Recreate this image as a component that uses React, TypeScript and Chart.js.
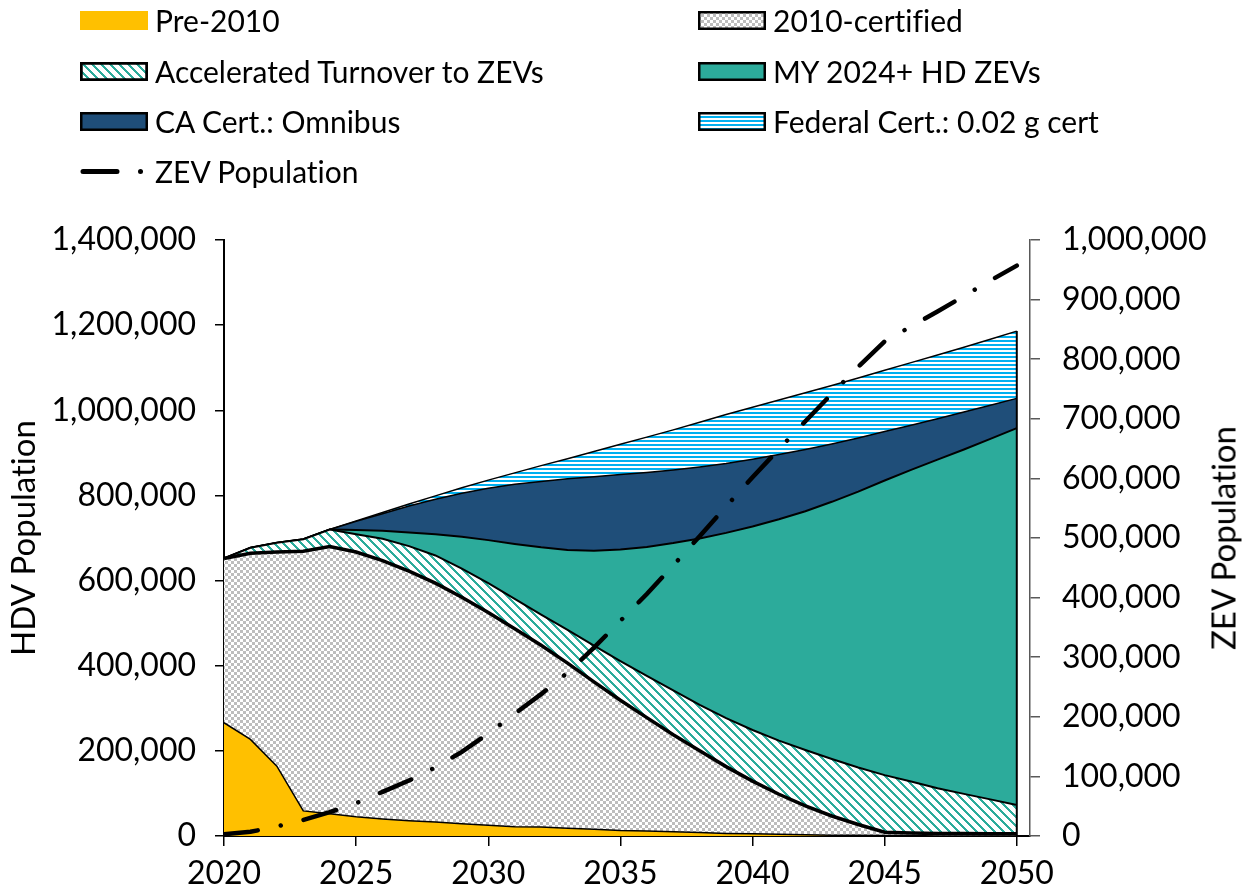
import React, { useEffect, useRef } from 'react';
import { Chart, registerables } from 'chart.js';

Chart.register(...registerables);

// ---------------- DATA ----------------
const years = [2020, 2021, 2022, 2023, 2024, 2025, 2026, 2027, 2028, 2029, 2030, 2031, 2032, 2033, 2034, 2035, 2036, 2037, 2038, 2039, 2040, 2041, 2042, 2043, 2044, 2045, 2046, 2047, 2048, 2049, 2050];

const pre2010 = [266000, 227000, 164000, 59000, 52000, 45000, 40000, 36000, 33000, 29000, 25000, 22000, 21000, 18000, 16000, 13000, 12000, 10000, 8000, 6000, 5000, 4000, 3000, 2000, 2000, 1000, 1000, 0, 0, 0, 0];
const certified2010 = [386000, 437000, 503000, 610000, 628000, 622000, 607000, 586000, 561000, 532000, 500000, 465000, 427000, 388000, 346000, 306000, 266000, 228000, 192000, 157000, 124000, 94000, 68000, 45000, 25000, 8000, 6000, 6000, 6000, 5000, 5000];
const acceleratedTurnover = [0, 13000, 22000, 28000, 40000, 42000, 51000, 59000, 65000, 67000, 69000, 70000, 72000, 78000, 85000, 92000, 98000, 104000, 108000, 114000, 120000, 126000, 131000, 134000, 134000, 134000, 121000, 106000, 93000, 81000, 68000];
const my2024Zevs = [0, 0, 0, 0, 0, 10000, 19000, 32000, 50000, 75000, 101000, 129000, 158000, 188000, 223000, 262000, 303000, 346000, 391000, 435000, 478000, 520000, 561000, 604000, 648000, 692000, 732000, 772000, 809000, 847000, 885000];
const caOmnibus = [0, 0, 0, 0, 0, 20000, 40000, 62000, 82000, 102000, 122000, 140000, 155000, 167000, 174000, 176000, 175000, 172000, 168000, 163000, 158000, 152000, 145000, 136000, 126000, 115000, 105000, 96000, 88000, 79000, 70000];
const federalCert = [0, 0, 0, 0, 0, 1000, 3000, 5000, 8000, 13000, 19000, 27000, 37000, 47000, 59000, 71000, 83000, 94000, 105000, 115000, 122000, 128000, 133000, 137000, 141000, 144000, 147000, 150000, 152000, 155000, 158000];
const zevPopulation = [3000, 7000, 16000, 27000, 40000, 55000, 74000, 93000, 115000, 141000, 172000, 205000, 238000, 274000, 316000, 361000, 406000, 454000, 503000, 553000, 602000, 649000, 696000, 742000, 787000, 830000, 855000, 880000, 906000, 932000, 957000];

const seriesLabels = ['Pre-2010', '2010-certified', 'Accelerated Turnover to ZEVs', 'MY 2024+ HD ZEVs', 'CA Cert.: Omnibus', 'Federal Cert.: 0.02 g cert', 'ZEV Population'];
const xTickYears = [2020, 2025, 2030, 2035, 2040, 2045, 2050];
const hdvTicks = [0, 200000, 400000, 600000, 800000, 1000000, 1200000, 1400000];
const zevTicks = [0, 100000, 200000, 300000, 400000, 500000, 600000, 700000, 800000, 900000, 1000000];
const leftTitle = 'HDV Population';
const rightTitle = 'ZEV Population';

// ---------------- STYLE ----------------
const FONT = 'Lato, "Open Sans", sans-serif';
const TICK_SIZE = 32;
const TITLE_SIZE = 33;
const LEGEND_SIZE = 30;
const C = {
  pre: '#FFC000',
  teal: '#2CAB9B',
  navy: '#1F4E79',
  blue: [0, 176, 240],
  tealRGB: [44, 171, 155],
  gray: [189, 189, 189],
};
const ZEV_DASH = [34, 23.5, 0.01, 23.5];

function tile(w: number, h: number, fn: (x: number, y: number) => number[]) {
  const c = document.createElement('canvas');
  c.width = w;
  c.height = h;
  const g = c.getContext('2d')!;
  const img = g.createImageData(w, h);
  for (let y = 0; y < h; y++) {
    for (let x = 0; x < w; x++) {
      const [r, gg, b] = fn(x, y);
      const i = (y * w + x) * 4;
      img.data[i] = r;
      img.data[i + 1] = gg;
      img.data[i + 2] = b;
      img.data[i + 3] = 255;
    }
  }
  g.putImageData(img, 0, 0);
  return c;
}

const WHITE = [255, 255, 255];
function makePatterns(ctx: CanvasRenderingContext2D) {
  const checker = ctx.createPattern(tile(6, 6, (x, y) => ((Math.floor(x / 3) + Math.floor(y / 3)) % 2 === 0 ? C.gray : WHITE)), 'repeat')!;
  const diag = ctx.createPattern(tile(9, 9, (x, y) => ((((x - y) % 9) + 9) % 9 < 3 ? C.tealRGB : WHITE)), 'repeat')!;
  const hstripe = ctx.createPattern(tile(4, 4, (_x, y) => (y < 2 ? C.blue : WHITE)), 'repeat')!;
  return { checker, diag, hstripe };
}

const fmt = (v: number | string) => Number(v).toLocaleString('en-US');

const edgePlugin = {
  id: 'rightEdge',
  afterDatasetsDraw(chart: any) {
    const { ctx, scales } = chart;
    const last = years.length - 1;
    const total = pre2010[last] + certified2010[last] + acceleratedTurnover[last] + my2024Zevs[last] + caOmnibus[last] + federalCert[last];
    const x = scales.x.getPixelForValue(years[last]);
    ctx.save();
    ctx.strokeStyle = '#000';
    ctx.lineWidth = 2;
    ctx.beginPath();
    ctx.moveTo(x, scales.y.getPixelForValue(0));
    ctx.lineTo(x, scales.y.getPixelForValue(total));
    ctx.stroke();
    ctx.restore();
  },
};

function Swatch({ kind }: { kind: number }) {
  const ref = useRef<HTMLCanvasElement>(null);
  useEffect(() => {
    const c = ref.current;
    if (!c) return;
    const g = c.getContext('2d')!;
    const p = makePatterns(g);
    g.clearRect(0, 0, c.width, c.height);
    if (kind === 6) {
      g.strokeStyle = '#000';
      g.lineWidth = 5;
      g.lineCap = 'round';
      g.setLineDash(ZEV_DASH);
      g.beginPath();
      g.moveTo(3, 9.5);
      g.lineTo(68, 9.5);
      g.stroke();
      return;
    }
    const fills = [C.pre, p.checker, p.diag, C.teal, C.navy, p.hstripe];
    g.fillStyle = fills[kind] as any;
    g.fillRect(0, 0, 68, 19);
    if (kind !== 0) {
      g.strokeStyle = '#000';
      g.lineWidth = kind === 2 ? 3 : 2.5;
      g.strokeRect(1.25, 1.25, 65.5, 16.5);
    }
  }, [kind]);
  return <canvas ref={ref} width={68} height={19} style={{ display: 'block' }} />;
}

const legendPos = [
  { x: 80, y: 20 },
  { x: 698, y: 20 },
  { x: 80, y: 71 },
  { x: 698, y: 71 },
  { x: 80, y: 121 },
  { x: 698, y: 121 },
  { x: 80, y: 171 },
];

export default function App() {
  const ref = useRef<HTMLCanvasElement>(null);

  useEffect(() => {
    let chart: Chart | null = null;
    let cancelled = false;
    const build = () => {
      if (cancelled || !ref.current) return;
      const ctx = ref.current.getContext('2d')!;
      const p = makePatterns(ctx);
      const pts = (arr: number[]) => years.map((x, i) => ({ x, y: arr[i] }));
      const area = (i: number, arr: number[], bg: any, bw: number) => ({
        label: seriesLabels[i],
        data: pts(arr),
        yAxisID: 'y',
        backgroundColor: bg,
        borderColor: '#000',
        borderWidth: bw,
        fill: i === 0 ? 'origin' : '-1',
        pointRadius: 0,
        tension: 0,
        order: 1,
      });
      const datasets: any[] = [
        area(0, pre2010, C.pre, 1.5),
        area(1, certified2010, p.checker, 3.5),
        area(2, acceleratedTurnover, p.diag, 2),
        area(3, my2024Zevs, C.teal, 2),
        area(4, caOmnibus, C.navy, 1.5),
        area(5, federalCert, p.hstripe, 1.5),
        {
          label: seriesLabels[6],
          data: pts(zevPopulation),
          yAxisID: 'y1',
          borderColor: '#000',
          borderWidth: 4.5,
          borderDash: ZEV_DASH,
          borderCapStyle: 'round',
          fill: false,
          pointRadius: 0,
          tension: 0,
          order: 0,
        },
      ];
      const tickFont = { family: FONT, size: TICK_SIZE };
      chart = new Chart(ctx, {
        type: 'line',
        data: { datasets },
        options: {
          animation: false,
          responsive: false,
          devicePixelRatio: 1,
          layout: { padding: { top: 240, left: 0, right: 0, bottom: 0 } },
          plugins: { legend: { display: false }, tooltip: { enabled: false } },
          scales: {
            x: {
              type: 'linear',
              bounds: 'data',
              min: xTickYears[0],
              max: xTickYears[xTickYears.length - 1] + 0.5,
              afterBuildTicks: (s: any) => {
                s.ticks = xTickYears.map((v) => ({ value: v }));
              },
              ticks: { font: tickFont, color: '#000', padding: 8, maxRotation: 0, autoSkip: false, callback: (v: any) => String(v) },
              grid: { drawOnChartArea: false, drawTicks: true, tickLength: 10, color: '#000', lineWidth: 1.5 },
              border: { display: true, color: '#000', width: 2 },
              afterFit: (s: any) => {
                s.height = 57;
              },
            },
            y: {
              type: 'linear',
              position: 'left',
              stacked: true,
              min: hdvTicks[0],
              max: hdvTicks[hdvTicks.length - 1],
              ticks: { stepSize: hdvTicks[1] - hdvTicks[0], font: tickFont, color: '#000', padding: 19, callback: (v: any) => fmt(v) },
              grid: { drawOnChartArea: false, drawTicks: true, tickLength: 9, color: '#000', lineWidth: 1.5 },
              border: { display: true, color: '#000', width: 2 },
              title: { display: true, text: leftTitle, font: { family: FONT, size: TITLE_SIZE }, color: '#000', padding: { top: 5, bottom: 0 } },
              afterFit: (s: any) => {
                s.width = 224;
              },
            },
            y1: {
              type: 'linear',
              position: 'right',
              stacked: false,
              min: zevTicks[0],
              max: zevTicks[zevTicks.length - 1],
              ticks: { stepSize: zevTicks[1] - zevTicks[0], font: tickFont, color: '#000', padding: 22, callback: (v: any) => fmt(v) },
              grid: { drawOnChartArea: false, drawTicks: true, tickLength: 10, color: '#595959', lineWidth: 1.5 },
              border: { display: true, color: '#595959', width: 1.5 },
              afterFit: (s: any) => {
                s.width = 219;
              },
            },
          },
        } as any,
        plugins: [edgePlugin],
      });
    };
    const fonts = (document as any).fonts;
    if (fonts && fonts.load) {
      Promise.all([fonts.load(`${TICK_SIZE}px Lato`), fonts.load(`${LEGEND_SIZE}px Lato`)]).then(build, build);
    } else {
      build();
    }
    return () => {
      cancelled = true;
      if (chart) chart.destroy();
    };
  }, []);

  return (
    <div style={{ position: 'absolute', left: 0, top: 0, width: 1249, height: 893, background: '#fff', fontFamily: FONT, color: '#000', overflow: 'hidden', fontVariantLigatures: 'none' }}>
      <canvas ref={ref} width={1249} height={893} style={{ position: 'absolute', left: 0, top: 0, width: 1249, height: 893 }} />
      {seriesLabels.map((label, i) => (
        <div key={label} style={{ position: 'absolute', left: legendPos[i].x, top: legendPos[i].y - 15, height: 30, display: 'flex', alignItems: 'center', whiteSpace: 'nowrap' }}>
          <Swatch kind={i} />
          <span style={{ marginLeft: 7, fontSize: LEGEND_SIZE, lineHeight: '30px' }}>{label}</span>
        </div>
      ))}
      <div style={{ position: 'absolute', left: 1223, top: 538, transform: 'translate(-50%, -50%) rotate(-90deg)', fontSize: TITLE_SIZE, whiteSpace: 'nowrap', lineHeight: 1 }}>
        {rightTitle}
      </div>
    </div>
  );
}
